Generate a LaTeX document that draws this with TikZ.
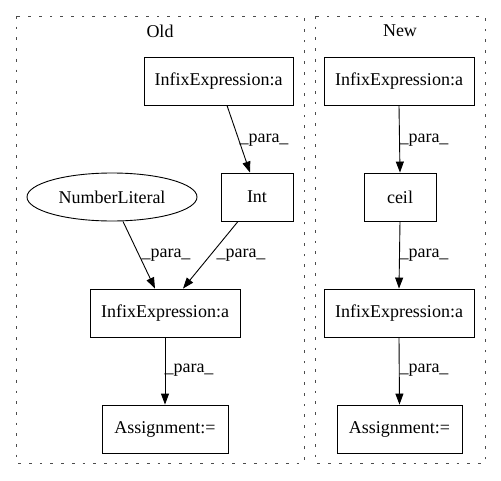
\documentclass[tikz,border=0pt]{standalone}
\usepackage{fontspec}
\setmainfont{Liberation Serif}
\usetikzlibrary{arrows.meta,shapes.geometric}
\begin{document}
\begin{tikzpicture}[x=1pt,y=-1pt,
  every node/.style={font=\fontsize{18}{20}\selectfont},
  box/.style={draw,line width=0.9pt,rectangle,inner sep=0pt,minimum height=48pt},
  oval/.style={draw,line width=0.9pt,ellipse,inner sep=0pt,minimum width=170pt,minimum height=48pt},
  cluster/.style={draw,line width=1pt,dash pattern=on 2.7pt off 8pt,black!70},
  edge/.style={line width=0.9pt,-{Triangle[length=11pt,width=8pt]}},
  lbl/.style={inner sep=0pt}]
\useasboundingbox (0,0) rectangle (501,480);
% clusters
\draw[cluster] (16,16) rectangle (304,463);
\draw[cluster] (315,16) rectangle (485,463);
\node (told) at (160,31) {Old};
\node (tnew) at (400,31) {New};
% Old
\node[box,minimum width=149pt] (oa) at (218.5,81) {InfixExpression:a};
\node[box,minimum width=72pt] (oint) at (257,197) {Int};
\node[oval] (onum) at (112,197) {NumberLiteral};
\node[box,minimum width=150pt] (ob) at (165,313) {InfixExpression:a};
\node[box,minimum width=126pt] (oass) at (165,429) {Assignment:=};
% New
\node[box,minimum width=150pt] (na) at (399,81) {InfixExpression:a};
\node[box,minimum width=72pt] (nceil) at (400,197) {ceil};
\node[box,minimum width=150pt] (nb) at (399,313) {InfixExpression:a};
\node[box,minimum width=125pt] (nass) at (399.5,429) {Assignment:=};
% edges old
\draw[edge] ([xshift=8.5pt]oa.south) -- ([xshift=-7pt]oint.north);
\draw[edge] ([xshift=11pt]onum.south) -- ([xshift=-10pt]ob.north);
\draw[edge] ([xshift=-19pt]oint.south) -- ([xshift=18pt]ob.north);
\draw[edge] (ob.south) -- (oass.north);
% edges new
\draw[edge] (na.south) -- (nceil.north);
\draw[edge] (nceil.south) -- (nb.north);
\draw[edge] (nb.south) -- (nass.north);
% labels
\node[lbl] (l1) at (264,140) {\_para\_};
\node[lbl] (l2) at (166,255) {\_para\_};
\node[lbl] (l3) at (241,255) {\_para\_};
\node[lbl] (l4) at (189,370) {\_para\_};
\node[lbl] (l5) at (424,140) {\_para\_};
\node[lbl] (l6) at (424,255) {\_para\_};
\node[lbl] (l7) at (424,370) {\_para\_};
\end{tikzpicture}
\end{document}
